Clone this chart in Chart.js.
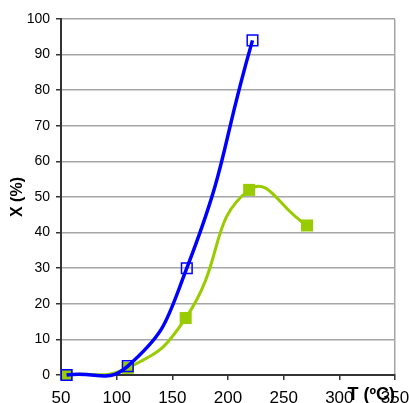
<!DOCTYPE html>
<html>
<head>
<meta charset="utf-8">
<script src="https://cdn.jsdelivr.net/npm/chart.js@4/dist/chart.umd.min.js"></script>
<style>
  html, body { margin:0; padding:0; background:#fff; }
  #wrap { width:409px; height:403px; }
</style>
</head>
<body>
<div id="wrap"><canvas id="chart" width="409" height="403"></canvas></div>
<script>
// values
var blueT = [55, 110, 163, 222];
var blueX = [0, 2.5, 30, 94];
var greenT = [55, 110, 162, 219, 271];
var greenX = [0, 2, 16, 52, 42];
var xTicks = [50, 100, 150, 200, 250, 300, 350];
var yTicks = [0, 10, 20, 30, 40, 50, 60, 70, 80, 90, 100];

var color = {
  blue: '#0000ff',
  green: '#99cc00',
  grid: '#a6a6a6',
  axis: '#333333'
};
var fam = '"Liberation Sans", Arial, sans-serif';

function pts(xs, ys) {
  return xs.map(function (x, i) { return { x: x, y: ys[i] }; });
}

// x axis title sits over the tick labels, like the original
var xTitle = {
  id: 'xTitle',
  afterDraw: function (chart) {
    var c = chart.ctx;
    c.save();
    c.font = 'bold 18px ' + fam;
    c.fillStyle = '#000';
    c.textAlign = 'right';
    c.textBaseline = 'middle';
    c.fillText('T (ºC)', chart.chartArea.right, 395);
    c.restore();
  }
};

var ctx = document.getElementById('chart').getContext('2d');
var chart = new Chart(ctx, {
  type: 'line',
  data: {
    datasets: [
      {
        label: 'blue',
        data: pts(blueT, blueX),
        borderColor: color.blue,
        backgroundColor: '#ffffff',
        borderWidth: 3.5,
        pointStyle: 'rect',
        pointRadius: 7.5,
        pointBorderWidth: 1.5,
        pointBorderColor: color.blue,
        pointBackgroundColor: 'rgba(255,255,255,0)',
        tension: 0.5
      },
      {
        label: 'green',
        data: pts(greenT, greenX),
        borderColor: color.green,
        backgroundColor: color.green,
        borderWidth: 3,
        pointStyle: 'rect',
        pointRadius: 8.5,
        pointBorderWidth: 0,
        pointBackgroundColor: color.green,
        tension: 0.5
      }
    ]
  },
  options: {
    responsive: false,
    animation: false,
    clip: false,
    elements: { line: { capBezierPoints: false } },
    layout: { padding: { top: 19, right: 14, left: 0, bottom: 0 } },
    plugins: {
      legend: { display: false },
      tooltip: { enabled: false }
    },
    scales: {
      x: {
        type: 'linear',
        min: 50, max: 350,
        afterBuildTicks: function (s) { s.ticks = xTicks.map(function (v) { return { value: v }; }); },
        afterFit: function (s) { s.height = 28; s.paddingRight = 0; s.paddingLeft = 0; },
        grid: {
          drawOnChartArea: true,
          color: function (c) { return c.tick && c.tick.value === 350 ? color.grid : 'rgba(0,0,0,0)'; },
          tickColor: color.axis,
          tickLength: 5,
          lineWidth: 1.5
        },
        border: { color: color.axis, width: 2 },
        ticks: {
          color: '#000',
          padding: 8,
          maxRotation: 0,
          font: { family: fam, size: 17 }
        }
      },
      y: {
        min: 0, max: 100,
        afterBuildTicks: function (s) { s.ticks = yTicks.map(function (v) { return { value: v }; }); },
        afterFit: function (s) { s.width = 61; },
        grid: {
          color: color.grid,
          tickColor: color.axis,
          tickLength: 5,
          lineWidth: 1.5
        },
        border: { color: color.axis, width: 2 },
        title: {
          display: true,
          text: 'X (%)',
          color: '#000',
          padding: { top: 8, bottom: 0 },
          font: { family: fam, size: 16, weight: 'bold' }
        },
        ticks: {
          color: '#000',
          padding: 6,
          font: { family: fam, size: 14 }
        }
      }
    }
  },
  plugins: [xTitle]
});
</script>
</body>
</html>
